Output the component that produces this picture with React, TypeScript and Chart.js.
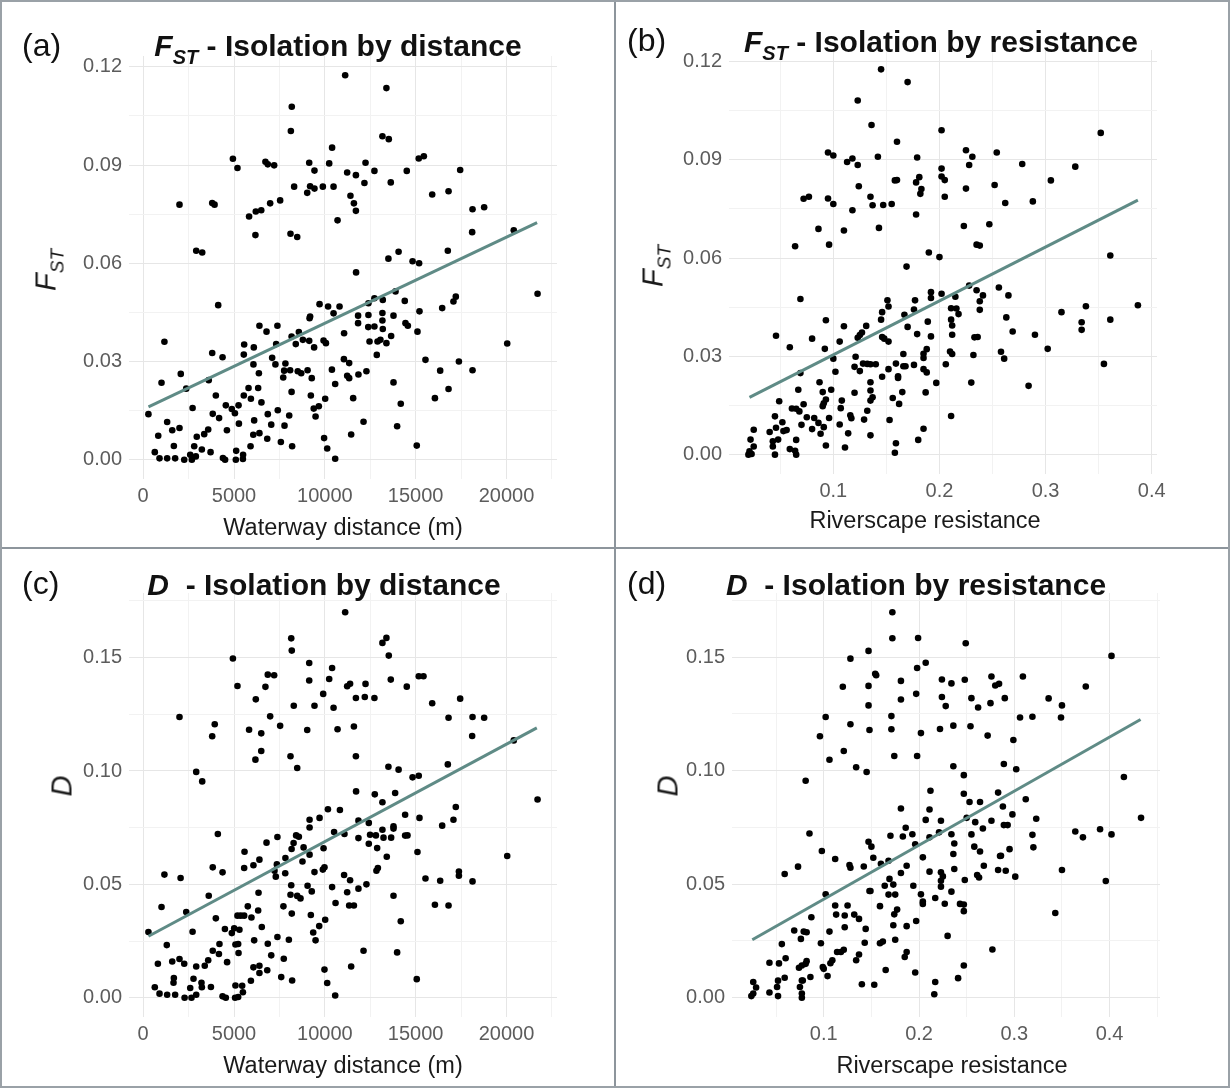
import React, { useEffect, useRef } from "react";
import { Chart, registerables } from "chart.js";

Chart.register(...registerables);

type Pt = [number, number];

// ---------------- DATA ----------------
// (a) FST vs waterway distance (m)
const fstDistance: Pt[] = [
  [11120,0.1174],[13390,0.1135],[8180,0.1078],[8130,0.1004],[13170,0.0988],[13520,0.0979],[10400,0.0953],
  [4940,0.0919],[5190,0.0891],[6730,0.0910],[6860,0.0902],[7210,0.0899],[9140,0.0907],[9430,0.0883],
  [10240,0.0905],[11230,0.0877],[11710,0.0869],[12240,0.0907],[12730,0.0882],[12180,0.0845],[13630,0.0847],
  [14510,0.0882],[15170,0.0920],[15450,0.0927],[17450,0.0885],[15910,0.0810],[16810,0.0820],[18130,0.0765],
  [18770,0.0771],[18110,0.0695],[20400,0.0701],[21710,0.0507],[2000,0.0779],[3800,0.0784],[3930,0.0779],
  [5830,0.0743],[6200,0.0758],[6500,0.0762],[6990,0.0783],[7540,0.0792],[8310,0.0834],[9030,0.0815],
  [9190,0.0835],[9430,0.0828],[9890,0.0834],[10480,0.0834],[11410,0.0806],[11600,0.0783],[11710,0.0760],
  [10700,0.0731],[6180,0.0686],[8110,0.0690],[8480,0.0680],[2920,0.0638],[3250,0.0633],[11720,0.0572],
  [13500,0.0614],[14060,0.0635],[14830,0.0606],[15190,0.0600],[16770,0.0638],[4130,0.0472],[1170,0.0360],
  [1010,0.0235],[2070,0.0262],[2370,0.0217],[290,0.0139],[2720,0.0158],[830,0.0073],[1320,0.0115],
  [1600,0.0090],[2000,0.0097],[1690,0.0042],[640,0.0023],[900,0.0004],[1320,0.0004],[1760,0.0004],
  [2260,0.0000],[2680,0.0000],[2590,0.0015],[2810,0.0041],[2950,0.0070],[2900,0.0010],[3230,0.0031],
  [3360,0.0078],[3580,0.0092],[3710,0.0023],[3830,0.0140],[4000,0.0196],[3610,0.0243],[3800,0.0326],
  [4370,0.0313],[4180,0.0127],[4610,0.0090],[4390,0.0005],[4510,0.0000],[5100,0.0000],[5120,0.0027],
  [5500,0.0015],[5490,0.0002],[4550,0.0166],[4880,0.0155],[5250,0.0166],[5540,0.0196],[5050,0.0142],
  [5270,0.0110],[5800,0.0219],[5930,0.0186],[6330,0.0219],[6510,0.0175],[6110,0.0120],[6060,0.0076],
  [6400,0.0081],[5910,0.0041],[6830,0.0064],[6860,0.0139],[7050,0.0107],[7410,0.0151],[7580,0.0054],
  [7780,0.0104],[8040,0.0135],[8200,0.0041],[8170,0.0207],[5560,0.0352],[5540,0.0321],[6090,0.0343],
  [6070,0.0291],[6370,0.0264],[6400,0.0409],[6790,0.0391],[7390,0.0409],[7320,0.0353],[7100,0.0311],
  [7280,0.0291],[7830,0.0294],[7760,0.0272],[7710,0.0251],[8090,0.0273],[8170,0.0376],[8400,0.0353],
  [8570,0.0390],[8790,0.0366],[9140,0.0363],[8510,0.0270],[8700,0.0264],[9050,0.0273],[9280,0.0249],
  [9160,0.0432],[9190,0.0437],[9710,0.0475],[9410,0.0343],[9930,0.0364],[10060,0.0356],[10180,0.0468],
  [10480,0.0447],[10810,0.0468],[10390,0.0275],[10570,0.0231],[11060,0.0386],[11050,0.0307],[11340,0.0295],
  [11230,0.0256],[11340,0.0249],[11850,0.0260],[12290,0.0270],[11560,0.0188],[9230,0.0196],[10020,0.0186],
  [9670,0.0163],[9390,0.0156],[9490,0.0132],[9960,0.0066],[10130,0.0034],[10570,0.0003],[11450,0.0077],
  [12130,0.0116],[11830,0.0417],[11830,0.0440],[12400,0.0478],[12730,0.0493],[12400,0.0442],[12390,0.0405],
  [12730,0.0407],[13170,0.0448],[13190,0.0488],[13170,0.0425],[13190,0.0399],[12460,0.0361],[12900,0.0361],
  [13060,0.0366],[13650,0.0378],[13390,0.0356],[12860,0.0320],[13780,0.0440],[13890,0.0514],[14400,0.0485],
  [14440,0.0417],[14570,0.0409],[15100,0.0391],[15210,0.0453],[13780,0.0236],[14180,0.0171],[13980,0.0102],
  [15540,0.0305],[15060,0.0043],[16460,0.0463],[17080,0.0483],[17210,0.0498],[16350,0.0272],[16810,0.0216],
  [16060,0.0188],[17380,0.0300],[18130,0.0273],[20040,0.0355],
];
const fstDistanceFit: Pt[] = [[293, 0.0161], [21685, 0.0724]];

// (b) FST vs riverscape resistance
const fstResistance: Pt[] = [
  [0.145,0.1176],[0.170,0.1137],[0.123,0.1081],[0.136,0.1006],[0.202,0.0990],[0.160,0.0955],[0.352,0.0982],
  [0.095,0.0922],[0.100,0.0913],[0.118,0.0904],[0.113,0.0893],[0.123,0.0884],[0.142,0.0909],[0.179,0.0907],
  [0.225,0.0929],[0.231,0.0909],[0.228,0.0884],[0.254,0.0922],[0.278,0.0887],[0.328,0.0879],[0.305,0.0837],
  [0.202,0.0873],[0.202,0.0849],[0.205,0.0838],[0.158,0.0837],[0.160,0.0838],[0.181,0.0847],[0.178,0.0831],
  [0.183,0.0811],[0.182,0.0796],[0.124,0.0819],[0.225,0.0812],[0.252,0.0823],[0.205,0.0787],[0.135,0.0787],
  [0.137,0.0761],[0.147,0.0762],[0.155,0.0765],[0.262,0.0768],[0.288,0.0773],[0.072,0.0781],[0.077,0.0787],
  [0.095,0.0782],[0.100,0.0765],[0.118,0.0746],[0.178,0.0733],[0.086,0.0689],[0.110,0.0684],[0.143,0.0692],
  [0.223,0.0698],[0.247,0.0703],[0.064,0.0636],[0.096,0.0641],[0.235,0.0641],[0.238,0.0638],[0.361,0.0608],
  [0.190,0.0617],[0.200,0.0603],[0.169,0.0574],[0.069,0.0475],[0.228,0.0516],[0.235,0.0502],[0.256,0.0510],
  [0.241,0.0486],[0.265,0.0486],[0.192,0.0496],[0.192,0.0478],[0.202,0.0491],[0.215,0.0482],[0.211,0.0447],
  [0.216,0.0446],[0.218,0.0429],[0.238,0.0468],[0.238,0.0442],[0.263,0.0419],[0.269,0.0376],[0.290,0.0366],
  [0.315,0.0435],[0.338,0.0453],[0.334,0.0404],[0.334,0.0381],[0.361,0.0412],[0.387,0.0456],[0.302,0.0323],
  [0.355,0.0277],[0.284,0.0210],[0.258,0.0314],[0.261,0.0293],[0.233,0.0358],[0.236,0.0359],[0.232,0.0304],
  [0.230,0.0220],[0.211,0.0118],[0.212,0.0366],[0.212,0.0394],[0.211,0.0412],[0.210,0.0315],[0.212,0.0307],
  [0.206,0.0276],[0.197,0.0219],[0.192,0.0361],[0.189,0.0406],[0.188,0.0322],[0.185,0.0308],[0.185,0.0295],
  [0.185,0.0261],[0.188,0.0251],[0.187,0.0190],[0.185,0.0079],[0.180,0.0045],[0.179,0.0368],[0.176,0.0274],
  [0.177,0.0471],[0.176,0.0443],[0.170,0.0390],[0.167,0.0427],[0.166,0.0307],[0.166,0.0270],[0.168,0.0270],
  [0.161,0.0234],[0.161,0.0239],[0.159,0.0278],[0.165,0.0191],[0.162,0.0155],[0.156,0.0173],[0.153,0.0106],
  [0.159,0.0035],[0.158,0.0006],[0.152,0.0261],[0.152,0.0345],[0.151,0.0471],[0.152,0.0452],[0.146,0.0435],
  [0.145,0.0412],[0.146,0.0359],[0.148,0.0354],[0.146,0.0238],[0.140,0.0276],[0.135,0.0276],[0.132,0.0277],
  [0.128,0.0278],[0.125,0.0255],[0.121,0.0299],[0.120,0.0268],[0.131,0.0393],[0.127,0.0373],[0.125,0.0365],
  [0.123,0.0357],[0.135,0.0221],[0.135,0.0196],[0.137,0.0175],[0.135,0.0165],[0.132,0.0134],[0.129,0.0107],
  [0.135,0.0059],[0.120,0.0189],[0.116,0.0120],[0.117,0.0111],[0.114,0.0065],[0.111,0.0022],[0.110,0.0392],
  [0.106,0.0345],[0.108,0.0165],[0.107,0.0142],[0.106,0.0092],[0.102,0.0253],[0.100,0.0293],[0.098,0.0198],
  [0.096,0.0112],[0.093,0.0410],[0.092,0.0323],[0.087,0.0221],[0.090,0.0191],[0.093,0.0168],[0.091,0.0157],
  [0.090,0.0148],[0.086,0.0097],[0.088,0.0064],[0.091,0.0084],[0.093,0.0028],[0.082,0.0112],[0.080,0.0078],
  [0.080,0.0354],[0.075,0.0114],[0.072,0.0154],[0.070,0.0091],[0.068,0.0132],[0.069,0.0249],[0.067,0.0198],
  [0.065,0.0140],[0.061,0.0141],[0.065,0.0045],[0.065,0.0000],[0.064,0.0012],[0.059,0.0328],[0.059,0.0017],
  [0.049,0.0163],[0.046,0.0363],[0.045,0.0117],[0.046,0.0082],[0.052,0.0099],[0.056,0.0075],[0.053,0.0072],
  [0.048,0.0046],[0.043,0.0041],[0.043,0.0025],[0.045,0.0000],[0.040,0.0069],[0.025,0.0076],[0.022,0.0046],
  [0.025,0.0025],[0.021,0.0010],[0.023,0.0002],[0.020,0.0000],
];
const fstResistanceFit: Pt[] = [[0.021, 0.0175], [0.387, 0.0777]];

// (c) D vs waterway distance (m)
const dDistance: Pt[] = [
  [11120,0.1700],[8150,0.1585],[8180,0.1531],[13390,0.1587],[13170,0.1565],[13520,0.1509],[4940,0.1496],
  [5190,0.1375],[6860,0.1425],[7210,0.1422],[6730,0.1371],[6200,0.1316],[9140,0.1476],[10400,0.1454],
  [9140,0.1399],[10240,0.1406],[11230,0.1374],[11390,0.1385],[12240,0.1384],[13630,0.1403],[14510,0.1372],
  [15170,0.1418],[15430,0.1418],[9910,0.1340],[8290,0.1288],[9430,0.1288],[10480,0.1279],[11710,0.1322],
  [12200,0.1326],[12730,0.1322],[15910,0.1299],[17450,0.1319],[2000,0.1238],[6990,0.1241],[3940,0.1206],
  [3800,0.1153],[5830,0.1182],[6500,0.1166],[7540,0.1199],[9030,0.1181],[10700,0.1184],[11600,0.1196],
  [16810,0.1235],[18130,0.1238],[18770,0.1235],[18110,0.1154],[20400,0.1135],[6500,0.1088],[6180,0.1050],
  [8110,0.1065],[8480,0.1013],[11710,0.1065],[13500,0.1019],[14060,0.1006],[14830,0.0972],[15170,0.0979],
  [16770,0.1029],[2920,0.0996],[3250,0.0954],[21710,0.0874],[11720,0.0910],[12750,0.0897],[13870,0.0903],
  [13170,0.0862],[10170,0.0831],[10830,0.0828],[9710,0.0793],[9160,0.0785],[9160,0.0751],[11850,0.0781],
  [12420,0.0771],[13170,0.0741],[13780,0.0756],[13780,0.0746],[14420,0.0807],[15210,0.0793],[16460,0.0759],
  [17080,0.0785],[17210,0.0841],[4110,0.0722],[10510,0.0731],[11080,0.0722],[11850,0.0704],[12490,0.0719],
  [12810,0.0716],[13230,0.0706],[13650,0.0706],[14420,0.0715],[14550,0.0716],[12420,0.0679],[12880,0.0660],
  [13410,0.0622],[12920,0.0572],[12840,0.0560],[15100,0.0643],[6790,0.0684],[7390,0.0709],[8420,0.0716],
  [8280,0.0682],[8170,0.0656],[8570,0.0710],[8830,0.0663],[8770,0.0601],[9160,0.0631],[9930,0.0659],
  [9980,0.0575],[9890,0.0565],[9430,0.0554],[7830,0.0616],[7360,0.0588],[7230,0.0560],[7300,0.0534],
  [7820,0.0549],[5580,0.0644],[5560,0.0572],[6070,0.0584],[6400,0.0609],[3830,0.0575],[4370,0.0553],
  [1170,0.0543],[2060,0.0528],[1010,0.0400],[2370,0.0378],[290,0.0290],[3610,0.0450],[4000,0.0350],
  [2720,0.0291],[1300,0.0232],[6350,0.0463],[5760,0.0403],[6330,0.0385],[5370,0.0362],[5190,0.0362],
  [5560,0.0362],[5960,0.0354],[4500,0.0303],[5010,0.0306],[5300,0.0300],[4880,0.0285],[6530,0.0312],
  [7390,0.0268],[8020,0.0256],[6860,0.0238],[6110,0.0253],[5230,0.0237],[5080,0.0235],[4200,0.0237],
  [3830,0.0207],[4170,0.0193],[3580,0.0165],[3390,0.0141],[2920,0.0138],[810,0.0150],[1600,0.0160],
  [2000,0.0171],[2260,0.0150],[1690,0.0087],[1670,0.0066],[2770,0.0084],[2590,0.0043],[3230,0.0046],
  [3210,0.0066],[3730,0.0047],[640,0.0046],[900,0.0018],[1320,0.0013],[1760,0.0013],[2280,0.0000],
  [2660,0.0000],[2920,0.0013],[4370,0.0006],[4550,0.0000],[5060,0.0000],[5230,0.0003],[5490,0.0024],
  [5080,0.0054],[5450,0.0053],[4620,0.0157],[5250,0.0197],[5930,0.0075],[6070,0.0134],[6400,0.0141],
  [6400,0.0109],[6830,0.0121],[7050,0.0187],[7740,0.0172],[7600,0.0091],[8200,0.0076],[7720,0.0403],
  [8180,0.0371],[8110,0.0454],[8480,0.0449],[8660,0.0438],[8150,0.0496],[9050,0.0494],[9280,0.0469],
  [9230,0.0365],[10020,0.0344],[9690,0.0316],[9360,0.0288],[9490,0.0253],[9980,0.0124],[10130,0.0065],
  [10570,0.0010],[10400,0.0488],[10590,0.0418],[11060,0.0541],[11390,0.0518],[11230,0.0465],[11340,0.0407],
  [11600,0.0407],[11850,0.0481],[12290,0.0500],[11450,0.0138],[12130,0.0207],[13780,0.0450],[14180,0.0337],
  [13980,0.0200],[15060,0.0082],[15540,0.0526],[16350,0.0516],[16060,0.0410],[16810,0.0407],[17380,0.0557],
  [17380,0.0538],[18130,0.0513],[20040,0.0625],
];
const dDistanceFit: Pt[] = [[290, 0.0271], [21670, 0.1190]];

// (d) D vs riverscape resistance
const dResistance: Pt[] = [
  [0.172,0.1697],[0.172,0.1583],[0.199,0.1584],[0.249,0.1561],[0.147,0.1527],[0.128,0.1493],[0.402,0.1505],
  [0.207,0.1475],[0.198,0.1452],[0.154,0.1426],[0.155,0.1420],[0.120,0.1369],[0.147,0.1373],[0.181,0.1395],
  [0.224,0.1401],[0.234,0.1384],[0.248,0.1400],[0.276,0.1414],[0.280,0.1375],[0.284,0.1382],[0.309,0.1414],
  [0.375,0.1370],[0.336,0.1318],[0.350,0.1287],[0.181,0.1313],[0.197,0.1338],[0.224,0.1324],[0.228,0.1284],
  [0.255,0.1319],[0.262,0.1278],[0.275,0.1297],[0.290,0.1319],[0.147,0.1287],[0.102,0.1236],[0.171,0.1240],
  [0.128,0.1204],[0.148,0.1179],[0.171,0.1182],[0.202,0.1165],[0.222,0.1183],[0.236,0.1198],[0.254,0.1195],
  [0.272,0.1154],[0.306,0.1234],[0.319,0.1237],[0.349,0.1234],[0.299,0.1135],[0.096,0.1151],[0.106,0.1048],
  [0.121,0.1086],[0.134,0.1015],[0.145,0.0994],[0.174,0.1064],[0.198,0.1064],[0.236,0.1019],[0.289,0.1029],
  [0.302,0.1006],[0.081,0.0955],[0.247,0.0980],[0.415,0.0972],[0.212,0.0911],[0.247,0.0898],[0.253,0.0862],
  [0.264,0.0862],[0.283,0.0903],[0.312,0.0874],[0.181,0.0833],[0.211,0.0829],[0.288,0.0842],[0.298,0.0807],
  [0.207,0.0783],[0.223,0.0779],[0.250,0.0792],[0.259,0.0773],[0.267,0.0745],[0.276,0.0779],[0.289,0.0760],
  [0.293,0.0760],[0.323,0.0788],[0.433,0.0792],[0.085,0.0723],[0.186,0.0748],[0.193,0.0720],[0.170,0.0713],
  [0.183,0.0710],[0.196,0.0676],[0.211,0.0706],[0.221,0.0728],[0.234,0.0720],[0.255,0.0719],[0.319,0.0717],
  [0.364,0.0732],[0.372,0.0706],[0.390,0.0742],[0.402,0.0719],[0.320,0.0662],[0.295,0.0654],[0.258,0.0665],
  [0.264,0.0644],[0.237,0.0679],[0.236,0.0633],[0.285,0.0624],[0.286,0.0625],[0.204,0.0618],[0.147,0.0687],
  [0.150,0.0665],[0.152,0.0616],[0.098,0.0646],[0.112,0.0611],[0.127,0.0584],[0.128,0.0572],[0.142,0.0578],
  [0.160,0.0590],[0.168,0.0603],[0.187,0.0581],[0.181,0.0549],[0.211,0.0555],[0.223,0.0552],[0.225,0.0534],
  [0.223,0.0515],[0.237,0.0567],[0.261,0.0540],[0.263,0.0529],[0.268,0.0581],[0.283,0.0562],[0.291,0.0559],
  [0.301,0.0533],[0.248,0.0518],[0.350,0.0562],[0.396,0.0514],[0.343,0.0373],[0.059,0.0545],[0.073,0.0577],
  [0.102,0.0455],[0.112,0.0406],[0.113,0.0366],[0.122,0.0362],[0.125,0.0406],[0.132,0.0366],[0.137,0.0347],
  [0.122,0.0310],[0.106,0.0291],[0.087,0.0354],[0.069,0.0296],[0.079,0.0291],[0.082,0.0288],[0.076,0.0259],
  [0.056,0.0236],[0.097,0.0240],[0.148,0.0470],[0.149,0.0470],[0.159,0.0403],[0.164,0.0493],[0.169,0.0523],
  [0.173,0.0498],[0.168,0.0454],[0.175,0.0454],[0.177,0.0388],[0.174,0.0367],[0.173,0.0319],[0.175,0.0255],
  [0.187,0.0315],[0.194,0.0493],[0.202,0.0455],[0.204,0.0423],[0.204,0.0413],[0.197,0.0338],[0.217,0.0439],
  [0.227,0.0414],[0.223,0.0489],[0.234,0.0467],[0.243,0.0413],[0.247,0.0410],[0.247,0.0381],[0.230,0.0272],
  [0.277,0.0212],[0.247,0.0142],[0.241,0.0086],[0.217,0.0069],[0.216,0.0015],[0.196,0.0111],[0.187,0.0201],
  [0.185,0.0179],[0.165,0.0122],[0.162,0.0247],[0.159,0.0240],[0.153,0.0057],[0.140,0.0059],[0.137,0.0190],
  [0.134,0.0165],[0.143,0.0242],[0.144,0.0303],[0.121,0.0211],[0.118,0.0201],[0.114,0.0201],[0.109,0.0165],
  [0.107,0.0152],[0.099,0.0135],[0.100,0.0127],[0.104,0.0095],[0.082,0.0161],[0.081,0.0149],[0.074,0.0132],
  [0.077,0.0142],[0.086,0.0091],[0.077,0.0076],[0.078,0.0076],[0.075,0.0047],[0.077,0.0018],[0.077,0.0000],
  [0.060,0.0174],[0.053,0.0151],[0.043,0.0154],[0.059,0.0088],[0.052,0.0075],[0.051,0.0047],[0.052,0.0007],
  [0.043,0.0023],[0.026,0.0069],[0.029,0.0045],[0.026,0.0018],[0.024,0.0007],
];
const dResistanceFit: Pt[] = [[0.025, 0.0255], [0.4325, 0.1225]];

// tick values (major ones carry labels)
const distanceMajorTicks = [0, 5000, 10000, 15000, 20000];
const distanceMinorTicks = [2500, 7500, 12500, 17500, 22500];
const resistanceMajorTicks = [0.1, 0.2, 0.3, 0.4];
const resistanceMinorTicks = [0.05, 0.15, 0.25, 0.35, 0.45];
const fstMajorTicks = [0, 0.03, 0.06, 0.09, 0.12];
const fstMinorTicks = [0.015, 0.045, 0.075, 0.105];
const dMajorTicks = [0, 0.05, 0.1, 0.15];
const dMinorTicks = [0.025, 0.075, 0.125, 0.175];

const panelLetters = ["(a)", "(b)", "(c)", "(d)"];
const panelTitleTexts = ["Isolation by distance", "Isolation by resistance", "Isolation by distance", "Isolation by resistance"];
const xAxisTitles = ["Waterway distance (m)", "Riverscape resistance", "Waterway distance (m)", "Riverscape resistance"];

// ---------------- STYLE ----------------
const FIT_COLOR = "#5f8b86";
const GRID_MAJOR = "#e6e6e6";
const GRID_MINOR = "#f2f2f2";
const TICK_COLOR = "#5c5c5c";
const SANS = "'Liberation Sans', Arial, Helvetica, sans-serif";

interface PanelSpec {
  left: number; top: number; width: number; height: number;
  area: { left: number; right: number; top: number; bottom: number };
  points: Pt[]; fit: Pt[];
  xMin: number; xMax: number; yMin: number; yMax: number;
  xMajor: number[]; xMinor: number[]; yMajor: number[]; yMinor: number[];
  xDec: number; yDec: number;
}

const has = (arr: number[], v: number) => arr.some((m) => Math.abs(m - v) < 1e-9);

function ScatterPanel({ spec }: { spec: PanelSpec }) {
  const ref = useRef<HTMLCanvasElement | null>(null);
  useEffect(() => {
    const canvas = ref.current;
    if (!canvas) return;
    const s = spec;
    const xTicks = [...s.xMajor, ...s.xMinor].filter((v) => v >= s.xMin && v <= s.xMax).sort((a, b) => a - b);
    const yTicks = [...s.yMajor, ...s.yMinor].filter((v) => v >= s.yMin && v <= s.yMax).sort((a, b) => a - b);
    const tickFont = { family: SANS, size: 20 };
    const chart = new Chart(canvas, {
      type: "scatter",
      data: {
        datasets: [
          {
            label: "fit",
            data: s.fit.map(([x, y]) => ({ x, y })),
            showLine: true,
            borderColor: FIT_COLOR,
            borderWidth: 3,
            pointRadius: 0,
            pointHoverRadius: 0,
            order: 0,
          },
          {
            label: "pairs",
            data: s.points.map(([x, y]) => ({ x, y })),
            backgroundColor: "#000",
            borderColor: "#000",
            borderWidth: 0,
            pointRadius: 3.3,
            order: 1,
          },
        ],
      },
      options: {
        responsive: false,
        animation: false,
        devicePixelRatio: 1,
        events: [],
        layout: { padding: { left: 0, top: s.area.top, right: s.width - s.area.right, bottom: 0 } },
        plugins: { legend: { display: false }, tooltip: { enabled: false }, title: { display: false } },
        scales: {
          x: {
            type: "linear",
            position: "bottom",
            min: s.xMin,
            max: s.xMax,
            afterBuildTicks: (sc: any) => { sc.ticks = xTicks.map((v) => ({ value: v })); },
            afterFit: (sc: any) => { sc.height = s.height - s.area.bottom; },
            border: { display: false },
            grid: {
              drawTicks: false,
              lineWidth: 1,
              color: (c: any) => (c.tick && has(s.xMajor, c.tick.value) ? GRID_MAJOR : GRID_MINOR),
            },
            ticks: {
              autoSkip: false, maxRotation: 0, minRotation: 0, padding: 5,
              color: TICK_COLOR, font: tickFont,
              callback: (v: any) => (has(s.xMajor, Number(v)) ? Number(v).toFixed(s.xDec) : ""),
            },
          },
          y: {
            type: "linear",
            position: "left",
            min: s.yMin,
            max: s.yMax,
            afterBuildTicks: (sc: any) => { sc.ticks = yTicks.map((v) => ({ value: v })); },
            afterFit: (sc: any) => { sc.width = s.area.left; },
            border: { display: false },
            grid: {
              drawTicks: false,
              lineWidth: 1,
              color: (c: any) => (c.tick && has(s.yMajor, c.tick.value) ? GRID_MAJOR : GRID_MINOR),
            },
            ticks: {
              autoSkip: false, padding: 7,
              color: TICK_COLOR, font: tickFont,
              callback: (v: any) => (has(s.yMajor, Number(v)) ? Number(v).toFixed(s.yDec) : ""),
            },
          },
        },
      },
    } as any);
    return () => chart.destroy();
  }, [spec]);
  return (
    <canvas
      ref={ref}
      width={spec.width}
      height={spec.height}
      style={{ position: "absolute", left: spec.left, top: spec.top, width: spec.width, height: spec.height, display: "block" }}
    />
  );
}

const specs: PanelSpec[] = [
  {
    left: 0, top: 0, width: 615, height: 548,
    area: { left: 129, right: 557, top: 56, bottom: 479 },
    points: fstDistance, fit: fstDistanceFit,
    xMin: -780, xMax: 22780, yMin: -0.0059, yMax: 0.1233,
    xMajor: distanceMajorTicks, xMinor: distanceMinorTicks, yMajor: fstMajorTicks, yMinor: fstMinorTicks,
    xDec: 0, yDec: 2,
  },
  {
    left: 615, top: 0, width: 615, height: 548,
    area: { left: 114, right: 542, top: 50, bottom: 474 },
    points: fstResistance, fit: fstResistanceFit,
    xMin: 0.0017, xMax: 0.405, yMin: -0.0059, yMax: 0.1235,
    xMajor: resistanceMajorTicks, xMinor: resistanceMinorTicks, yMajor: fstMajorTicks, yMinor: fstMinorTicks,
    xDec: 1, yDec: 2,
  },
  {
    left: 0, top: 548, width: 615, height: 540,
    area: { left: 129, right: 557, top: 45, bottom: 469 },
    points: dDistance, fit: dDistanceFit,
    xMin: -780, xMax: 22780, yMin: -0.0085, yMax: 0.1785,
    xMajor: distanceMajorTicks, xMinor: distanceMinorTicks, yMajor: dMajorTicks, yMinor: dMinorTicks,
    xDec: 0, yDec: 2,
  },
  {
    left: 615, top: 548, width: 615, height: 540,
    area: { left: 117, right: 545, top: 45, bottom: 469 },
    points: dResistance, fit: dResistanceFit,
    xMin: 0.0037, xMax: 0.4529, yMin: -0.0085, yMax: 0.1782,
    xMajor: resistanceMajorTicks, xMinor: resistanceMinorTicks, yMajor: dMajorTicks, yMinor: dMinorTicks,
    xDec: 1, yDec: 2,
  },
];

// overlay text placement (page coordinates)
const overlay = [
  { letter: { x: 22, y: 45 }, title: { x: 338, y: 46 }, ytitle: { x: 46, y: 270 }, xtitle: { x: 343, y: 528 }, sym: "F", sub: "ST" },
  { letter: { x: 627, y: 40 }, title: { x: 941, y: 42 }, ytitle: { x: 653, y: 266 }, xtitle: { x: 925, y: 521 }, sym: "F", sub: "ST" },
  { letter: { x: 22, y: 583 }, title: { x: 324, y: 585 }, ytitle: { x: 62, y: 786 }, xtitle: { x: 343, y: 1066 }, sym: "D", sub: "" },
  { letter: { x: 627, y: 583 }, title: { x: 916, y: 585 }, ytitle: { x: 668, y: 786 }, xtitle: { x: 952, y: 1066 }, sym: "D", sub: "" },
];

const centered = (x: number, y: number): React.CSSProperties => ({
  position: "absolute", left: x, top: y, transform: "translate(-50%, -50%)", whiteSpace: "nowrap", lineHeight: 1,
});

export default function App() {
  return (
    <div style={{ position: "absolute", left: 0, top: 0, width: 1230, height: 1088, background: "#fff", overflow: "hidden", fontFamily: SANS }}>
      {specs.map((s, i) => (
        <ScatterPanel key={i} spec={s} />
      ))}
      {overlay.map((o, i) => (
        <React.Fragment key={"t" + i}>
          <div style={{ position: "absolute", left: o.letter.x, top: o.letter.y, transform: "translateY(-50%)", lineHeight: 1, fontSize: 32, color: "#111" }}>
            {panelLetters[i]}
          </div>
          <div style={{ ...centered(o.title.x, o.title.y), fontSize: 30, fontWeight: 700, color: "#111" }}>
            <span style={{ fontStyle: "italic" }}>{o.sym}</span>
            {o.sub ? (
              <span style={{ fontStyle: "italic", fontSize: 20, position: "relative", top: 8 }}>{o.sub}</span>
            ) : null}
            <span>{o.sub ? " - " : "\u00a0 - "}{panelTitleTexts[i]}</span>
          </div>
          <div style={{ ...centered(o.ytitle.x, o.ytitle.y), transform: "translate(-50%, -50%) rotate(-90deg)", fontSize: 29, color: "#1a1a1a" }}>
            <span style={{ fontStyle: "italic" }}>{o.sym}</span>
            {o.sub ? (
              <span style={{ fontStyle: "italic", fontSize: 19, position: "relative", top: 8 }}>{o.sub}</span>
            ) : null}
          </div>
          <div style={{ ...centered(o.xtitle.x, o.xtitle.y), fontSize: 23.5, color: "#1a1a1a" }}>{xAxisTitles[i]}</div>
        </React.Fragment>
      ))}
      {/* panel separators and frame */}
      <div style={{ position: "absolute", left: 614, top: 0, width: 2, height: 1088, background: "#8d959c" }} />
      <div style={{ position: "absolute", left: 0, top: 547, width: 1230, height: 2, background: "#8d959c" }} />
      <div style={{ position: "absolute", left: 0, top: 0, width: 1230, height: 1088, border: "2px solid #9aa1a7", boxSizing: "border-box" }} />
    </div>
  );
}
